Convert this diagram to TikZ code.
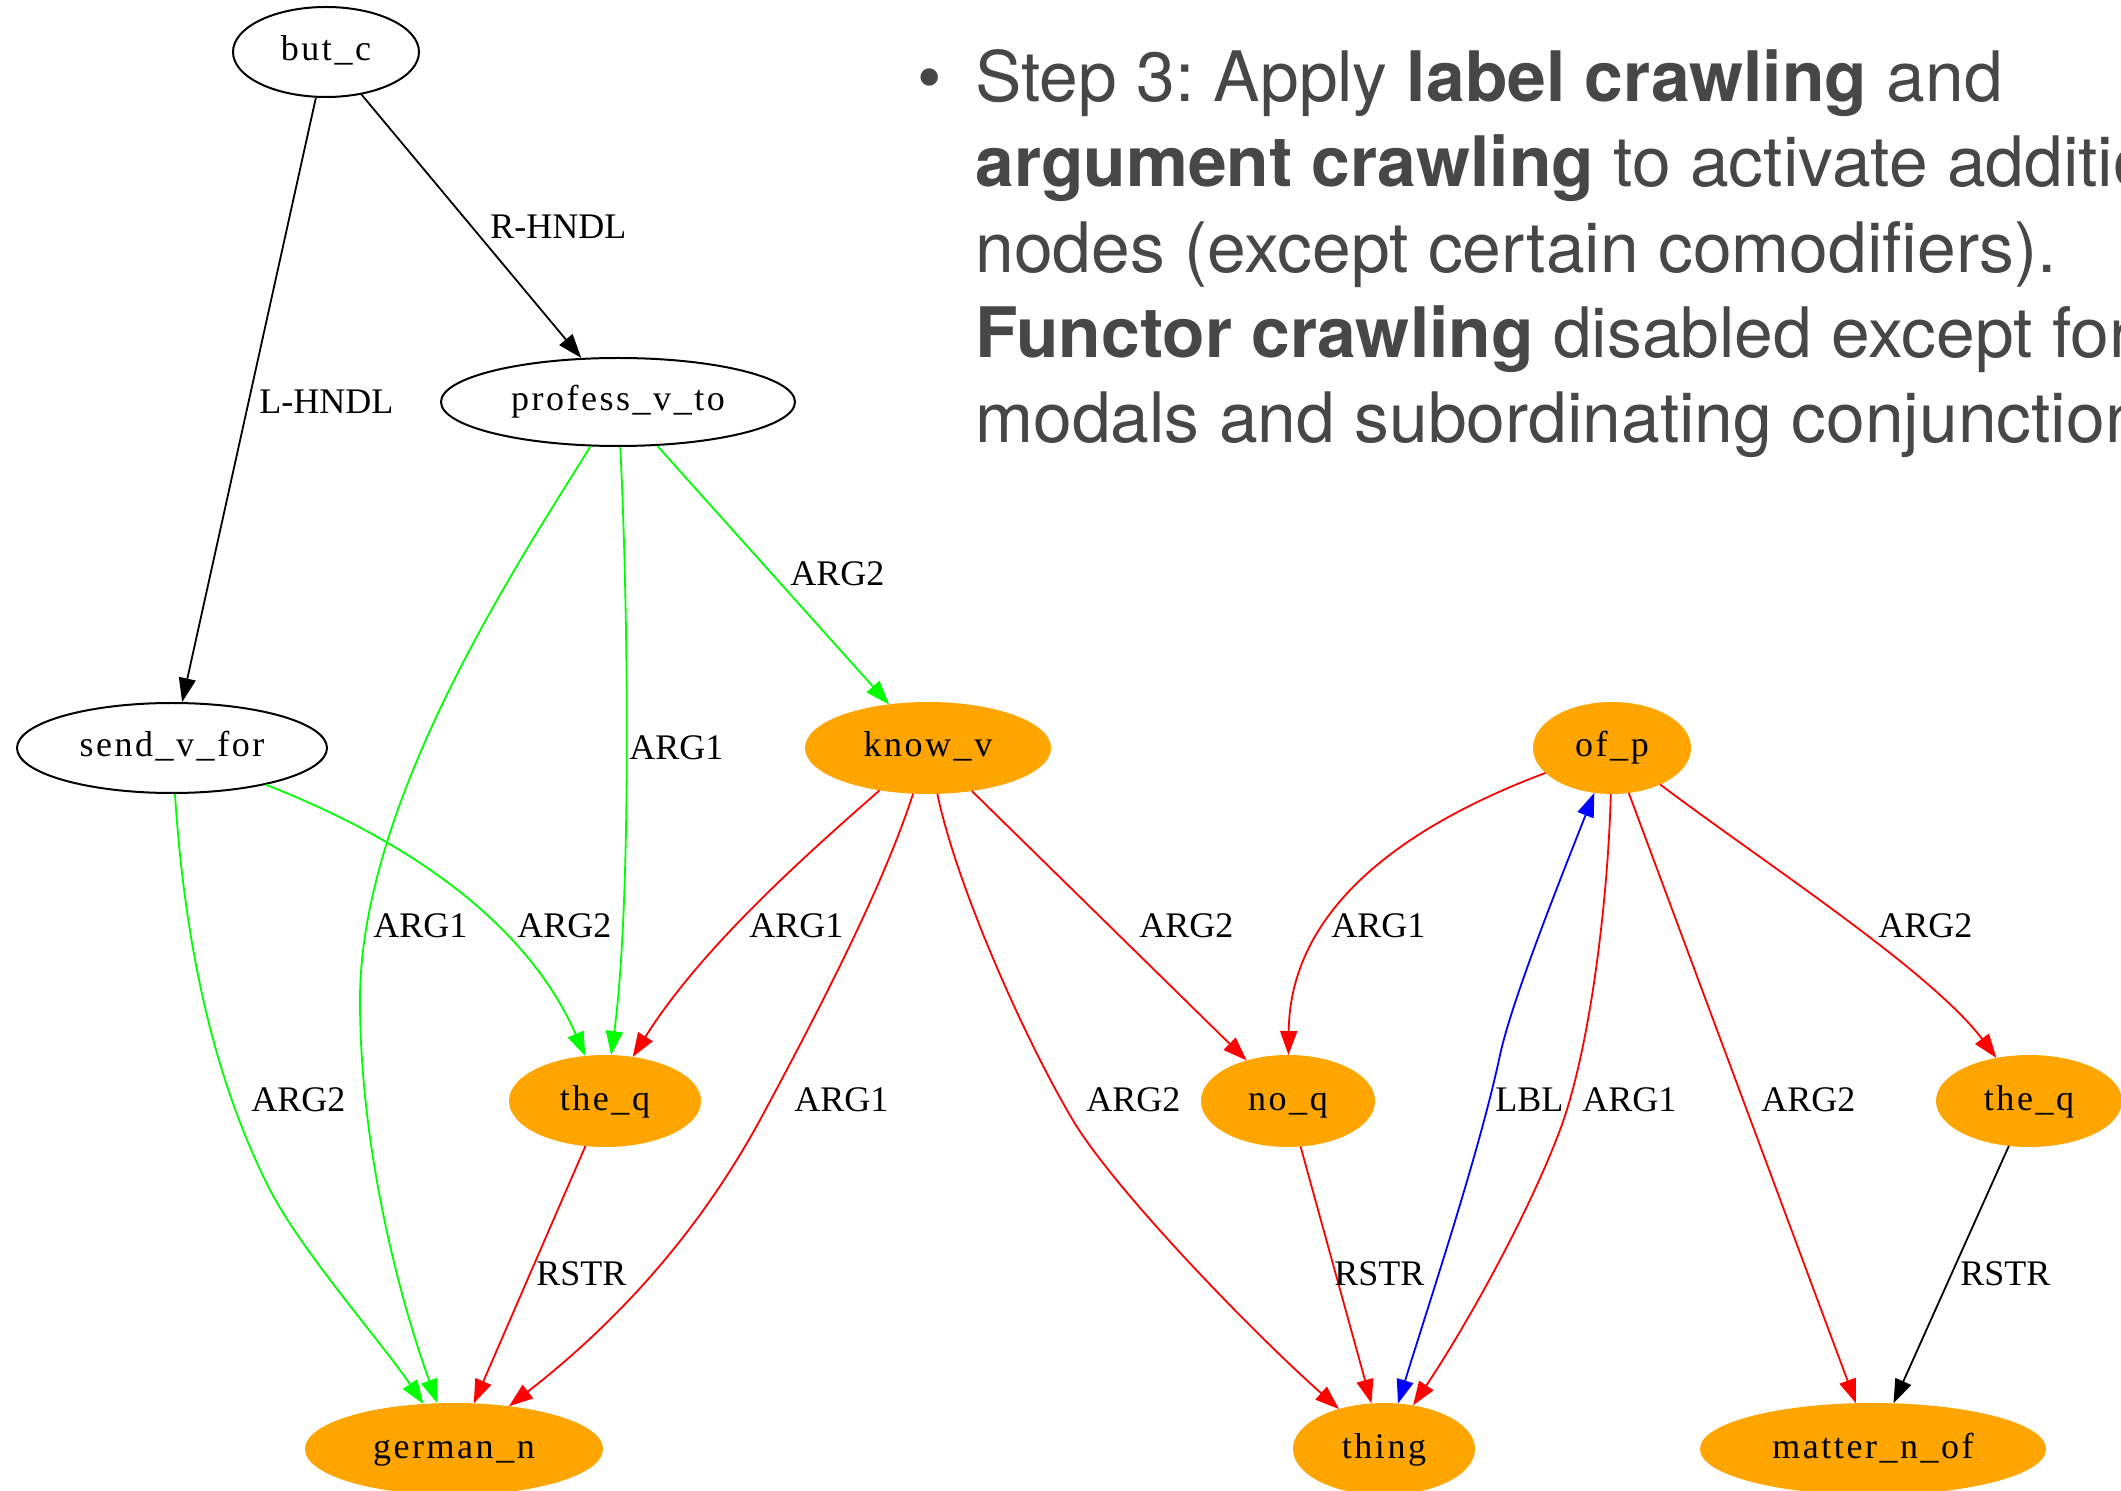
\documentclass[tikz,border=0pt]{standalone}
\usepackage{fontspec}
\setmainfont{Liberation Serif}
\newfontfamily\nodefont[LetterSpace=7]{Liberation Serif}
\newfontfamily\slidefont{TeX Gyre Heros}
\usetikzlibrary{shapes.geometric,arrows.meta}
\definecolor{dotorange}{HTML}{FFA500}
\definecolor{argreen}{HTML}{00FF00}
\definecolor{argred}{HTML}{FF0000}
\definecolor{lblblue}{HTML}{0000FF}
\definecolor{slidegray}{HTML}{474747}
\frenchspacing
\tikzset{
  pred/.style={ellipse, draw=black, line width=1pt, inner sep=0pt,
    text height=12pt, text depth=3pt,
    font=\nodefont\fontsize{18}{20}\selectfont},
  active/.style={pred, draw=dotorange, fill=dotorange},
  rel/.style={line width=0.9pt, -{Triangle[length=12pt,width=8.5pt]}},
  elabel/.style={anchor=west, inner sep=0pt, font=\fontsize{18}{20}\selectfont},
  slideline/.style={anchor=base west, inner sep=0pt, text=slidegray,
    font=\slidefont\fontsize{34.8}{42}\selectfont},
}
\begin{document}
\begin{tikzpicture}[x=0.5pt,y=-0.5pt]
\useasboundingbox (0,0) rectangle (2121,1491);
\clip (0,0) rectangle (2121,1491);

% bullet text
\node[slideline, anchor=base] (bullet) at (930,102) {\textbullet};
\node[slideline] (line1) at (975,102) {Step 3: Apply \textbf{label crawling} and};
\node[slideline] (line2) at (975,187) {\textbf{argument crawling} to activate additional};
\node[slideline] (line3) at (975,273) {nodes (except certain comodifiers).};
\node[slideline] (line4) at (975,358) {\textbf{Functor crawling} disabled except for};
\node[slideline] (line5) at (975,443) {modals and subordinating conjunctions.};

% predicate nodes
\node[pred, minimum width=93pt, minimum height=45pt] (but_c) at (326,52) {but\_c};
\node[pred, minimum width=177pt, minimum height=44pt] (prof) at (618,402) {profess\_v\_to};
\node[pred, minimum width=155pt, minimum height=45pt] (send) at (172,748) {send\_v\_for};
\node[active, minimum width=122pt, minimum height=45pt] (know) at (928,748) {know\_v};
\node[active, minimum width=78pt, minimum height=45pt] (ofp) at (1612,748) {of\_p};
\node[active, minimum width=95pt, minimum height=45pt] (theqL) at (605,1101) {the\_q};
\node[active, minimum width=86pt, minimum height=45pt] (noq) at (1288,1101) {no\_q};
\node[active, minimum width=92pt, minimum height=45pt] (theqR) at (2029,1101) {the\_q};
\node[active, minimum width=148pt, minimum height=45pt] (german) at (454,1449) {german\_n};
\node[active, minimum width=90pt, minimum height=45pt] (thing) at (1384,1449) {thing};
\node[active, minimum width=172pt, minimum height=45pt] (matter) at (1873,1449) {matter\_n\_of};

% handle edges
\draw[rel] (but_c) -- (send);
\draw[rel] (but_c) -- (prof);

% green arguments
\draw[rel, argreen] (prof) -- (know);
\draw[rel, argreen] (prof) .. controls (628,600) and (632,900) .. (theqL);
\draw[rel, argreen] (prof) .. controls (520,560) and (360,800) .. (360,1000)
  .. controls (360,1150) and (400,1300) .. (german);
\draw[rel, argreen] (send) .. controls (420,845) and (530,930) .. (theqL);
\draw[rel, argreen] (send) .. controls (185,950) and (215,1080) .. (268,1186)
  .. controls (300,1250) and (380,1340) .. (german);

% red arguments
\draw[rel, argred] (know) .. controls (800,860) and (700,950) .. (theqL);
\draw[rel, argred] (know) .. controls (885,880) and (830,990) .. (760,1120)
  .. controls (700,1230) and (620,1320) .. (german);
\draw[rel, argred] (know) .. controls (955,880) and (1020,1030) .. (1071,1117)
  .. controls (1110,1185) and (1250,1330) .. (thing);
\draw[rel, argred] (know) -- (noq);
\draw[rel, argred] (ofp) .. controls (1420,820) and (1290,900) .. (noq);
\draw[rel, argred] (ofp) .. controls (1608,900) and (1590,1050) .. (1560,1130)
  .. controls (1530,1210) and (1470,1320) .. (thing);
\draw[rel, argred] (ofp) -- (matter);
\draw[rel, argred] (ofp) .. controls (1760,860) and (1930,970) .. (theqR);
\draw[rel, argred] (noq) -- (thing);
\draw[rel, argred] (theqL) -- (german);
\draw[rel] (theqR) -- (matter);

% label edge
\draw[line width=0.9pt, lblblue, {Triangle[length=12pt,width=8.5pt]}-{Triangle[length=12pt,width=8.5pt]}]
  (ofp) .. controls (1560,880) and (1512,1000) .. (1500,1055)
  .. controls (1480,1150) and (1430,1300) .. (thing);

% edge labels
\node[elabel] (lhndl) at (259,402) {L-HNDL};
\node[elabel] (rhndl) at (490,227) {R-HNDL};
\node[elabel] (l1) at (790,574) {ARG2};
\node[elabel] (l2) at (629,748) {ARG1};
\node[elabel] (l3) at (373,926) {ARG1};
\node[elabel] (l4) at (517,926) {ARG2};
\node[elabel] (l5) at (251,1100) {ARG2};
\node[elabel] (l6) at (749,926) {ARG1};
\node[elabel] (l7) at (794,1100) {ARG1};
\node[elabel] (l8) at (1086,1100) {ARG2};
\node[elabel] (l9) at (1139,926) {ARG2};
\node[elabel] (l10) at (1331,926) {ARG1};
\node[elabel] (l11) at (1495,1100) {LBL};
\node[elabel] (l12) at (1582,1100) {ARG1};
\node[elabel] (l13) at (1761,1100) {ARG2};
\node[elabel] (l14) at (1878,926) {ARG2};
\node[elabel] (l15) at (1334,1274) {RSTR};
\node[elabel] (l16) at (1960,1274) {RSTR};
\node[elabel] (l17) at (536,1274) {RSTR};
\end{tikzpicture}
\end{document}
